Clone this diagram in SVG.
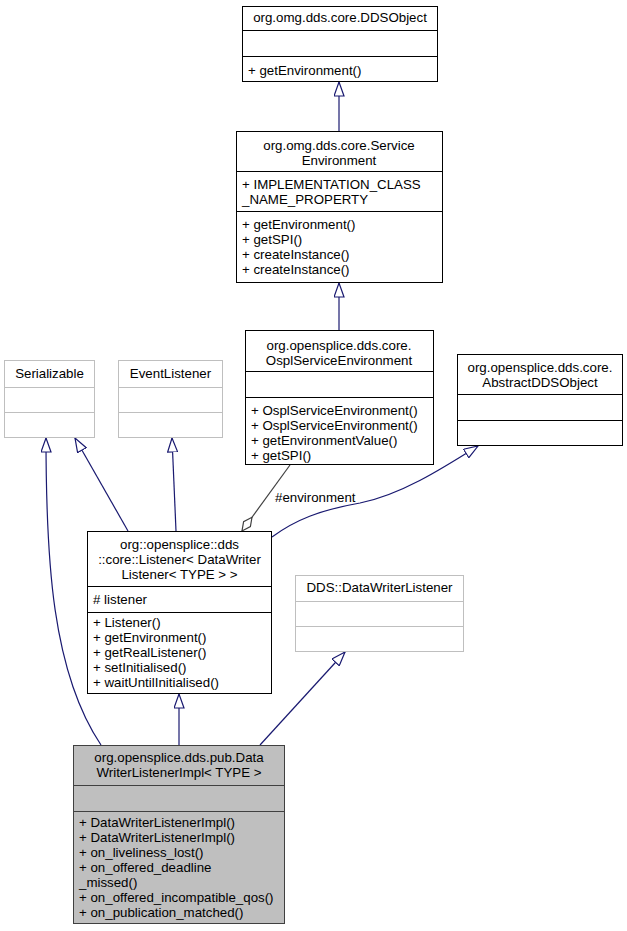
<svg xmlns="http://www.w3.org/2000/svg" width="627" height="931" viewBox="0 0 627 931">
<style>
text{font-family:"Liberation Sans",Arial,sans-serif;font-size:13.3px;fill:#000}
.c{text-anchor:middle}
.box{fill:#fff;stroke:#000;stroke-width:1}
.ext{fill:#fff;stroke:#bfbfbf;stroke-width:1}
.cur{fill:#bfbfbf;stroke:#404040;stroke-width:1}
.sep{stroke:#000;stroke-width:1}
.sepg{stroke:#bfbfbf;stroke-width:1}
.sepd{stroke:#404040;stroke-width:1}
.inh{fill:none;stroke:#191970;stroke-width:1.2}
.agg{fill:none;stroke:#404040;stroke-width:1.2}
</style>
<defs>
<marker id="tri" viewBox="0 0 15 11" refX="14.5" refY="5.5" markerWidth="15" markerHeight="11" markerUnits="userSpaceOnUse" orient="auto">
<path d="M0.5,0.5 L14.5,5.5 L0.5,10.5 Z" fill="#fff" stroke="#191970" stroke-width="1.2"/>
</marker>
<marker id="dia" viewBox="0 0 18 10" refX="17.5" refY="5" markerWidth="18" markerHeight="10" markerUnits="userSpaceOnUse" orient="auto">
<path d="M0.5,5 L9,0.8 L17.5,5 L9,9.2 Z" fill="#fff" stroke="#404040" stroke-width="1.2"/>
</marker>
</defs>

<g id="connectors">
<path class="inh" d="M339,131 L339,82" marker-end="url(#tri)"/>
<path class="inh" d="M339,330 L339,283" marker-end="url(#tri)"/>
<path class="inh" d="M101,745 C52,672 46,560 46,438" marker-end="url(#tri)"/>
<path class="inh" d="M128,531 L75,438" marker-end="url(#tri)"/>
<path class="inh" d="M176,531 L172,438" marker-end="url(#tri)"/>
<path class="agg" d="M290,465 L242,531" marker-end="url(#dia)"/>
<text x="275" y="502">#environment</text>
<path class="inh" d="M272,537 C295,520 320,510 360,503 C400,495 440,470 478,446" marker-end="url(#tri)"/>
<path class="inh" d="M179,745 L179,694" marker-end="url(#tri)"/>
<path class="inh" d="M260,745 L345,652" marker-end="url(#tri)"/>
</g>

<g id="DDSObject">
<rect class="box" x="242.5" y="6.5" width="195" height="75"/>
<line class="sep" x1="242.5" y1="30.5" x2="437.5" y2="30.5"/>
<line class="sep" x1="242.5" y1="56.5" x2="437.5" y2="56.5"/>
<text class="c" x="340" y="22">org.omg.dds.core.DDSObject</text>
<text x="248" y="75">+ getEnvironment()</text>
</g>

<g id="ServiceEnvironment">
<rect class="box" x="236.5" y="131.5" width="206" height="151"/>
<line class="sep" x1="236.5" y1="171.5" x2="442.5" y2="171.5"/>
<line class="sep" x1="236.5" y1="211.5" x2="442.5" y2="211.5"/>
<text class="c" x="339" y="150">org.omg.dds.core.Service</text>
<text class="c" x="339" y="165">Environment</text>
<text x="242" y="189">+ IMPLEMENTATION_CLASS</text>
<text x="242" y="204">_NAME_PROPERTY</text>
<text x="242" y="229">+ getEnvironment()</text>
<text x="242" y="244">+ getSPI()</text>
<text x="242" y="259">+ createInstance()</text>
<text x="242" y="274">+ createInstance()</text>
</g>

<g id="OsplServiceEnvironment">
<rect class="box" x="245.5" y="330.5" width="188" height="134"/>
<line class="sep" x1="245.5" y1="371.5" x2="433.5" y2="371.5"/>
<line class="sep" x1="245.5" y1="397.5" x2="433.5" y2="397.5"/>
<text class="c" x="339" y="350">org.opensplice.dds.core.</text>
<text class="c" x="339" y="365">OsplServiceEnvironment</text>
<text x="251" y="415">+ OsplServiceEnvironment()</text>
<text x="251" y="430">+ OsplServiceEnvironment()</text>
<text x="251" y="445">+ getEnvironmentValue()</text>
<text x="251" y="460">+ getSPI()</text>
</g>

<g id="Serializable">
<rect class="ext" x="4.5" y="360.5" width="90" height="77"/>
<line class="sepg" x1="4.5" y1="387.5" x2="94.5" y2="387.5"/>
<line class="sepg" x1="4.5" y1="412.5" x2="94.5" y2="412.5"/>
<text class="c" x="49.5" y="378">Serializable</text>
</g>

<g id="EventListener">
<rect class="ext" x="118.5" y="360.5" width="104" height="77"/>
<line class="sepg" x1="118.5" y1="387.5" x2="222.5" y2="387.5"/>
<line class="sepg" x1="118.5" y1="412.5" x2="222.5" y2="412.5"/>
<text class="c" x="170.5" y="378">EventListener</text>
</g>

<g id="AbstractDDSObject">
<rect class="box" x="457.5" y="354.5" width="165" height="91"/>
<line class="sep" x1="457.5" y1="394.5" x2="622.5" y2="394.5"/>
<line class="sep" x1="457.5" y1="420.5" x2="622.5" y2="420.5"/>
<text class="c" x="540" y="372">org.opensplice.dds.core.</text>
<text class="c" x="540" y="387">AbstractDDSObject</text>
</g>

<g id="Listener">
<rect class="box" x="87.5" y="531.5" width="184" height="162"/>
<line class="sep" x1="87.5" y1="586.5" x2="271.5" y2="586.5"/>
<line class="sep" x1="87.5" y1="612.5" x2="271.5" y2="612.5"/>
<text class="c" x="179.5" y="549">org::opensplice::dds</text>
<text class="c" x="179.5" y="564">::core::Listener&lt; DataWriter</text>
<text class="c" x="179.5" y="579">Listener&lt; TYPE &gt; &gt;</text>
<text x="93" y="604"># listener</text>
<text x="93" y="627">+ Listener()</text>
<text x="93" y="642">+ getEnvironment()</text>
<text x="93" y="657">+ getRealListener()</text>
<text x="93" y="672">+ setInitialised()</text>
<text x="93" y="687">+ waitUntilInitialised()</text>
</g>

<g id="DataWriterListener">
<rect class="ext" x="295.5" y="575.5" width="168" height="76"/>
<line class="sepg" x1="295.5" y1="601.5" x2="463.5" y2="601.5"/>
<line class="sepg" x1="295.5" y1="626.5" x2="463.5" y2="626.5"/>
<text class="c" x="379.5" y="592">DDS::DataWriterListener</text>
</g>

<g id="DataWriterListenerImpl">
<rect class="cur" x="73.5" y="745.5" width="211" height="178"/>
<line class="sepd" x1="73.5" y1="785.5" x2="284.5" y2="785.5"/>
<line class="sepd" x1="73.5" y1="811.5" x2="284.5" y2="811.5"/>
<text class="c" x="179" y="762">org.opensplice.dds.pub.Data</text>
<text class="c" x="179" y="777">WriterListenerImpl&lt; TYPE &gt;</text>
<text x="79" y="827">+ DataWriterListenerImpl()</text>
<text x="79" y="842">+ DataWriterListenerImpl()</text>
<text x="79" y="857">+ on_liveliness_lost()</text>
<text x="79" y="872">+ on_offered_deadline</text>
<text x="79" y="887">_missed()</text>
<text x="79" y="902">+ on_offered_incompatible_qos()</text>
<text x="79" y="917">+ on_publication_matched()</text>
</g>
</svg>
